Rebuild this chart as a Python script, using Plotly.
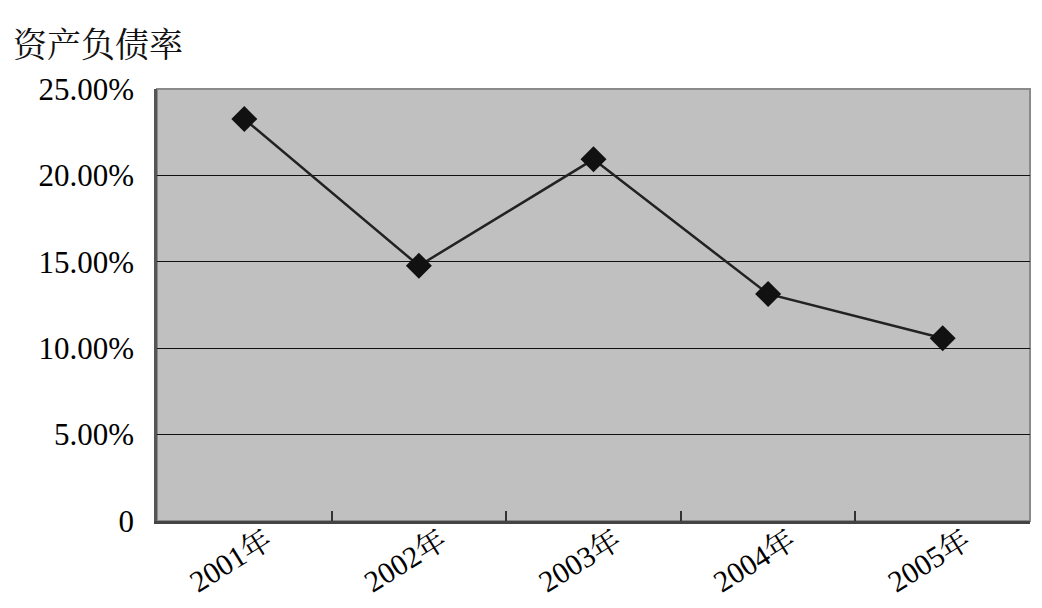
import plotly.graph_objects as go

categories = ["2001年", "2002年", "2003年", "2004年", "2005年"]
values = [0.2326, 0.1477, 0.2093, 0.1314, 0.1058]
ytick_vals = [0, 0.05, 0.10, 0.15, 0.20, 0.25]
ytick_text = ["0", "5.00%", "10.00%", "15.00%", "20.00%", "25.00%"]
title_text = "资产负债率"

FONT = "Liberation Serif, Times New Roman, Noto Serif CJK SC, Noto Sans CJK SC, serif"

L, R, T, B = 149, 20, 81, 95
PW = 1042 - L - R
PH = 608 - T - B

fig = go.Figure()
fig.add_trace(go.Scatter(
    x=categories, y=values, mode="lines+markers",
    line=dict(color="#222222", width=2.5),
    marker=dict(symbol="diamond", size=20, color="#111111"),
    showlegend=False,
))

fig.add_shape(type="rect", xref="paper", yref="paper", x0=0, x1=1, y0=0, y1=1,
              line=dict(color="#8a8a8a", width=2), fillcolor="rgba(0,0,0,0)", layer="below")

fig.update_layout(
    width=1042, height=608,
    margin=dict(l=L, r=R, t=T, b=B),
    paper_bgcolor="white",
    plot_bgcolor="#c0c0c0",
    font=dict(family=FONT, size=30, color="black"),
    annotations=[dict(text=title_text, xref="paper", yref="paper",
                      x=(3 - L) / PW, y=1 + 44 / PH, xanchor="left", yanchor="middle",
                      showarrow=False, font=dict(size=34, family=FONT, color="#111"))],
)
fig.update_xaxes(
    type="category", tickson="boundaries", ticks="inside", ticklen=10,
    tickcolor="#333", tickwidth=1.5,
    showline=True, linecolor="#444", linewidth=2.5,
    showgrid=False, tickangle=-32, automargin=False,
    tickfont=dict(size=30, family=FONT),
    ticklabelshift=22, ticklabelstandoff=-12,
    range=[-0.5, 4.5],
)
fig.update_yaxes(
    range=[0, 0.25], tickvals=ytick_vals, ticktext=ytick_text,
    showline=True, linecolor="#555", linewidth=2.5,
    showgrid=True, gridcolor="#111", gridwidth=1.2, automargin=False,
    zeroline=False, ticks="", ticklabelstandoff=14,
    tickfont=dict(size=31, family=FONT),
)
fig.write_html("out.html")
